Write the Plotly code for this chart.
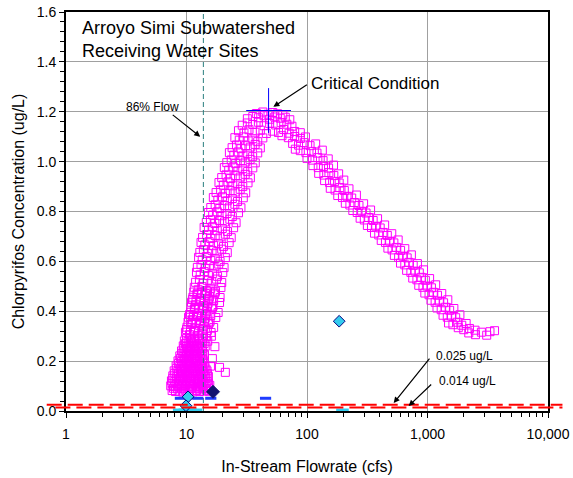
import numpy as np
import plotly.graph_objects as go

# ---------------- data ----------------
# Model output: concentration (ug/L) vs in-stream flow (cfs)
blob_x = [7.6, 8.1, 8.7, 9.3, 9.9, 10.6, 11.3, 12.1, 12.9, 13.8, 14.7, 15.4,
          7.8, 8.4, 9.0, 9.6, 10.3, 11.0, 11.8, 12.6, 13.5, 14.4, 15.3,
          7.4, 7.9, 8.5, 9.1, 9.8, 10.5, 11.2, 12.0, 12.8, 13.7, 14.6, 15.6,
          7.6, 8.2, 8.8, 9.4, 10.1, 10.8, 11.6, 12.4, 13.3, 14.2, 15.2,
          7.5, 8.0, 8.6, 9.2, 9.9, 10.6, 11.4, 12.2, 13.0, 13.9, 14.9,
          7.7, 8.3, 8.9, 9.6, 10.3, 11.0, 11.8, 12.6, 13.5, 14.5,
          7.7, 8.3, 8.9, 9.5, 10.2, 10.9, 11.7, 12.5, 13.4, 14.3, 15.2,
          8.0, 8.6, 9.2, 9.9, 10.6, 11.4, 12.2, 13.1, 14.0, 14.9,
          7.9, 8.5, 9.1, 9.8, 10.5, 11.2, 12.0, 12.9, 13.8, 14.8,
          8.3, 8.9, 9.6, 10.3, 11.0, 11.8, 12.7, 13.6, 14.5,
          8.2, 8.8, 9.4, 10.1, 10.8, 11.6, 12.4, 13.3, 14.2,
          8.6, 9.2, 9.9, 10.6, 11.4, 12.2, 13.1, 14.0,
          8.5, 9.1, 9.7, 10.4, 11.1, 11.9, 12.8, 13.7,
          8.9, 9.6, 10.3, 11.0, 11.8, 12.7, 13.6,
          8.8, 9.4, 10.0, 10.7, 11.5, 12.3, 13.2, 14.1,
          9.2, 9.9, 10.6, 11.4, 12.2, 13.1, 14.0,
          9.1, 9.7, 10.4, 11.1, 11.9, 12.7, 13.6,
          9.5, 10.2, 10.9, 11.7, 12.6, 13.5,
          9.4, 10.0, 10.7, 11.5, 12.3, 13.2, 14.3,
          9.8, 10.5, 11.3, 12.1, 13.0, 14.0,
          9.6, 10.3, 11.0, 11.8, 12.7, 13.6, 15.0,
          10.0, 10.8, 11.6, 12.5, 13.4, 14.5,
          15.8, 18.8, 21.0, 16.4, 17.2, 16.1]
blob_y = [0.082, 0.078, 0.080, 0.076, 0.081, 0.079, 0.077, 0.082, 0.078, 0.080, 0.083, 0.079,
          0.091, 0.089, 0.092, 0.088, 0.090, 0.091, 0.089, 0.092, 0.088, 0.090, 0.091,
          0.101, 0.098, 0.103, 0.099, 0.102, 0.097, 0.100, 0.104, 0.098, 0.101, 0.099, 0.103,
          0.111, 0.109, 0.112, 0.108, 0.110, 0.111, 0.109, 0.112, 0.108, 0.110, 0.111,
          0.121, 0.118, 0.123, 0.119, 0.122, 0.117, 0.120, 0.124, 0.118, 0.121, 0.119,
          0.131, 0.129, 0.132, 0.128, 0.130, 0.131, 0.129, 0.132, 0.128, 0.130,
          0.141, 0.138, 0.143, 0.139, 0.142, 0.137, 0.140, 0.144, 0.138, 0.141, 0.139,
          0.151, 0.149, 0.152, 0.148, 0.150, 0.151, 0.149, 0.152, 0.148, 0.150,
          0.161, 0.158, 0.163, 0.159, 0.162, 0.157, 0.160, 0.164, 0.158, 0.161,
          0.171, 0.169, 0.172, 0.168, 0.170, 0.171, 0.169, 0.172, 0.168,
          0.181, 0.178, 0.183, 0.179, 0.182, 0.177, 0.180, 0.184, 0.178,
          0.191, 0.189, 0.192, 0.188, 0.190, 0.191, 0.189, 0.192,
          0.201, 0.198, 0.203, 0.199, 0.202, 0.197, 0.200, 0.204,
          0.211, 0.209, 0.212, 0.208, 0.210, 0.211, 0.209,
          0.221, 0.218, 0.223, 0.219, 0.222, 0.217, 0.220, 0.224,
          0.231, 0.229, 0.232, 0.228, 0.230, 0.231, 0.229,
          0.241, 0.238, 0.243, 0.239, 0.242, 0.237, 0.240,
          0.251, 0.249, 0.252, 0.248, 0.250, 0.251,
          0.261, 0.258, 0.263, 0.259, 0.262, 0.257, 0.260,
          0.271, 0.269, 0.272, 0.268, 0.270, 0.271,
          0.281, 0.278, 0.283, 0.279, 0.282, 0.277, 0.280,
          0.291, 0.289, 0.292, 0.288, 0.290, 0.291,
          0.180, 0.175, 0.155, 0.210, 0.258, 0.300]

rise_x = [9.8, 10.6, 11.5, 12.4, 13.5, 14.7, 16.0,
          10.0, 10.8, 11.7, 12.6, 13.7, 14.9,
          10.1, 10.9, 11.8, 12.8, 13.9, 15.2, 16.8,
          10.3, 11.1, 12.0, 13.0, 14.1, 15.4,
          10.4, 11.2, 12.1, 13.1, 14.3, 15.7, 17.5,
          10.6, 11.4, 12.3, 13.3, 14.5, 15.9,
          10.8, 11.6, 12.5, 13.5, 14.7, 16.2, 18.3,
          10.9, 11.7, 12.6, 13.7, 14.9, 16.4,
          11.0, 11.9, 12.8, 13.9, 15.1, 16.6, 18.8,
          11.2, 12.0, 13.0, 14.0, 15.3, 16.8,
          11.3, 12.2, 13.1, 14.2, 15.5, 17.0, 19.0,
          11.5, 12.3, 13.3, 14.4, 15.7, 17.2,
          11.6, 12.5, 13.4, 14.6, 15.9, 17.4, 19.3,
          11.9, 12.8, 13.7, 14.9, 16.2, 17.7, 19.6,
          12.1, 13.0, 14.0, 15.2, 16.5, 18.1, 20.0,
          12.3, 13.2, 14.3, 15.5, 16.9, 18.5, 20.5,
          12.6, 13.5, 14.6, 15.9, 17.3, 19.0, 21.0,
          12.9, 13.8, 15.0, 16.3, 17.8, 19.6, 21.8,
          13.2, 14.2, 15.4, 16.8, 18.4, 20.3, 22.6,
          13.6, 14.7, 15.9, 17.3, 19.0, 21.0, 23.5,
          14.0, 15.2, 16.5, 18.0, 19.8, 21.9, 24.6,
          14.6, 15.8, 17.2, 18.8, 20.7, 22.9, 25.8,
          15.2, 16.5, 18.0, 19.7, 21.7, 24.0, 27.0,
          15.9, 17.3, 18.9, 20.7, 22.8, 25.2, 28.3,
          16.7, 18.2, 19.9, 21.8, 24.0, 26.5, 29.6,
          17.6, 19.2, 21.0, 23.0, 25.3, 27.9, 31.0,
          18.6, 20.2, 22.1, 24.2, 26.6, 29.3, 32.4,
          19.6, 21.3, 23.2, 25.4, 27.9, 30.7, 33.9,
          20.6, 22.4, 24.4, 26.7, 29.3, 32.2, 35.5,
          21.6, 23.5, 25.6, 28.0, 30.7, 33.7, 37.2,
          22.7, 24.7, 26.9, 29.4, 32.2, 35.4, 39.0,
          23.9, 26.0, 28.3, 30.9, 33.8, 37.1, 41.0,
          25.2, 27.4, 29.8, 32.5, 35.5, 39.0, 43.0]
rise_y = [0.316, 0.306, 0.319, 0.303, 0.312, 0.300, 0.315,
          0.327, 0.322, 0.325, 0.321, 0.328, 0.323,
          0.336, 0.347, 0.332, 0.344, 0.338, 0.349, 0.335,
          0.357, 0.352, 0.355, 0.351, 0.358, 0.353,
          0.376, 0.366, 0.379, 0.363, 0.372, 0.360, 0.375,
          0.387, 0.382, 0.385, 0.381, 0.388, 0.383,
          0.396, 0.407, 0.392, 0.404, 0.398, 0.409, 0.395,
          0.417, 0.412, 0.415, 0.411, 0.418, 0.413,
          0.436, 0.426, 0.439, 0.423, 0.432, 0.420, 0.435,
          0.447, 0.442, 0.445, 0.441, 0.448, 0.443,
          0.456, 0.467, 0.452, 0.464, 0.458, 0.469, 0.455,
          0.477, 0.472, 0.475, 0.471, 0.478, 0.473,
          0.496, 0.486, 0.499, 0.483, 0.492, 0.480, 0.495,
          0.516, 0.527, 0.512, 0.524, 0.518, 0.529, 0.515,
          0.556, 0.546, 0.559, 0.543, 0.552, 0.540, 0.555,
          0.576, 0.587, 0.572, 0.584, 0.578, 0.589, 0.575,
          0.616, 0.606, 0.619, 0.603, 0.612, 0.600, 0.615,
          0.636, 0.647, 0.632, 0.644, 0.638, 0.649, 0.635,
          0.676, 0.666, 0.679, 0.663, 0.672, 0.660, 0.675,
          0.696, 0.707, 0.692, 0.704, 0.698, 0.709, 0.695,
          0.736, 0.726, 0.739, 0.723, 0.732, 0.720, 0.735,
          0.756, 0.767, 0.752, 0.764, 0.758, 0.769, 0.755,
          0.796, 0.786, 0.799, 0.783, 0.792, 0.780, 0.795,
          0.816, 0.827, 0.812, 0.824, 0.818, 0.829, 0.815,
          0.856, 0.846, 0.859, 0.843, 0.852, 0.840, 0.855,
          0.876, 0.887, 0.872, 0.884, 0.878, 0.889, 0.875,
          0.916, 0.906, 0.919, 0.903, 0.912, 0.900, 0.915,
          0.936, 0.947, 0.932, 0.944, 0.938, 0.949, 0.935,
          0.976, 0.966, 0.979, 0.963, 0.972, 0.960, 0.975,
          0.996, 1.007, 0.992, 1.004, 0.998, 1.009, 0.995,
          1.036, 1.026, 1.039, 1.023, 1.032, 1.020, 1.035,
          1.056, 1.067, 1.052, 1.064, 1.058, 1.069, 1.055,
          1.096, 1.086, 1.099, 1.083, 1.092, 1.080, 1.095]

peak_x = [27, 30, 33, 37, 41, 46, 52, 58, 64, 71, 79, 88,
          29, 32, 35.5, 39.5, 44, 49, 55, 61, 68, 75,
          32, 35.5, 39.5, 44, 49, 54, 60, 66, 72,
          38, 43, 47.5, 52, 57, 63, 80]
peak_y = [1.124, 1.115, 1.128, 1.118, 1.126, 1.113, 1.122, 1.117, 1.129, 1.114, 1.121, 1.116,
          1.146, 1.155, 1.149, 1.158, 1.144, 1.153, 1.147, 1.156, 1.150, 1.142,
          1.172, 1.181, 1.176, 1.184, 1.170, 1.179, 1.174, 1.178, 1.168,
          1.193, 1.199, 1.190, 1.197, 1.192, 1.188, 1.050]

fall_x = [62, 70, 79, 88, 97,
          76, 85, 95, 106, 118,
          88, 98, 109, 121, 134,
          100, 111, 123, 136, 150,
          112, 124, 137, 151, 166,
          125, 138, 152, 167, 183,
          140, 154, 169, 185, 202,
          156, 171, 187, 204, 223,
          180, 197, 215, 235, 257,
          208, 227, 247, 270, 295,
          240, 261, 284, 309, 337,
          276, 299, 325, 354, 385,
          317, 343, 372, 405, 441,
          363, 394, 427, 464, 505,
          413, 448, 485, 526, 571,
          469, 508, 551, 598, 648,
          531, 576, 625, 678, 735,
          597, 648, 702, 761, 825,
          671, 728, 789, 855, 927,
          754, 817, 886, 960, 1041,
          846, 917, 995, 1078, 1169,
          950, 1030, 1117, 1210, 1313,
          1068, 1157, 1254, 1360, 1474,
          1199, 1299, 1408, 1527, 1655,
          1346, 1459, 1581, 1714, 1858,
          1495, 1625, 1768, 1924, 2093,
          1800, 2000, 2230, 2480,
          2200, 2500, 2800, 3100,
          3300, 3600]
fall_y = [1.104, 1.096, 1.101, 1.093, 1.099,
          1.073, 1.066, 1.076, 1.064, 1.071,
          1.044, 1.036, 1.041, 1.034, 1.046,
          1.013, 1.006, 1.016, 1.004, 1.011,
          0.984, 0.976, 0.981, 0.974, 0.986,
          0.953, 0.946, 0.956, 0.944, 0.951,
          0.924, 0.916, 0.921, 0.914, 0.926,
          0.893, 0.886, 0.896, 0.884, 0.891,
          0.864, 0.856, 0.861, 0.854, 0.866,
          0.833, 0.826, 0.836, 0.824, 0.831,
          0.804, 0.796, 0.801, 0.794, 0.806,
          0.773, 0.766, 0.776, 0.764, 0.771,
          0.744, 0.736, 0.741, 0.734, 0.746,
          0.713, 0.706, 0.716, 0.704, 0.711,
          0.684, 0.676, 0.681, 0.674, 0.686,
          0.653, 0.646, 0.656, 0.644, 0.651,
          0.624, 0.616, 0.621, 0.614, 0.626,
          0.593, 0.586, 0.596, 0.584, 0.591,
          0.564, 0.556, 0.561, 0.554, 0.566,
          0.533, 0.526, 0.536, 0.524, 0.531,
          0.504, 0.496, 0.501, 0.494, 0.506,
          0.473, 0.466, 0.476, 0.464, 0.471,
          0.444, 0.436, 0.441, 0.434, 0.446,
          0.413, 0.406, 0.416, 0.404, 0.411,
          0.384, 0.376, 0.381, 0.374, 0.386,
          0.353, 0.346, 0.356, 0.344, 0.351,
          0.334, 0.326, 0.331, 0.324,
          0.313, 0.306, 0.316, 0.304,
          0.318, 0.322]

# Observed receiving water samples
obs_cyan_x = [185, 10.3, 9.9]
obs_cyan_y = [0.36, 0.057, 0.021]
obs_navy_x = [16.6]
obs_navy_y = [0.077]
nd_blue_x = [8.9, 12.4, 15.9, 45.3]
nd_blue_y = [0.051, 0.051, 0.051, 0.051]
nd_cyan_x = [8.7, 9.7, 10.8, 12.0, 197]
nd_cyan_y = [0.004, 0.004, 0.004, 0.004, 0.004]

critical_x = [48]
critical_y = [1.205]
flow_86 = 13.8
targets = [0.025, 0.014]

x_tickvals = [1, 10, 100, 1000, 10000]
x_ticktext = ["1", "10", "100", "1,000", "10,000"]

# ---------------- figure ----------------
FONT = "Liberation Sans, Arial, Helvetica, sans-serif"
magenta = "#ff00ff"

fig = go.Figure()

fig.add_trace(go.Scatter(
    x=blob_x + rise_x + peak_x + fall_x,
    y=blob_y + rise_y + peak_y + fall_y,
    mode="markers",
    marker=dict(symbol="square-open", size=8, color=magenta,
                line=dict(width=1, color=magenta)),
    hoverinfo="skip", showlegend=False))

fig.add_trace(go.Scatter(
    x=[flow_86, flow_86], y=[0, 1.6], mode="lines",
    line=dict(color="#2a7f7f", width=1, dash="5px,3px"),
    hoverinfo="skip", showlegend=False))

fig.add_trace(go.Scatter(
    x=nd_cyan_x, y=nd_cyan_y, mode="markers", cliponaxis=False,
    marker=dict(symbol="line-ew", size=9, color="#33ccee",
                line=dict(width=3, color="#33ccee")),
    hoverinfo="skip", showlegend=False))

fig.add_trace(go.Scatter(
    x=nd_blue_x, y=nd_blue_y, mode="markers",
    marker=dict(symbol="line-ew", size=8, color="#1f3cff",
                line=dict(width=3, color="#1f3cff")),
    hoverinfo="skip", showlegend=False))

fig.add_trace(go.Scatter(
    x=obs_cyan_x, y=obs_cyan_y, mode="markers",
    marker=dict(symbol="diamond", size=9, color="#33ccee",
                line=dict(width=1, color="#000080")),
    hoverinfo="skip", showlegend=False))

fig.add_trace(go.Scatter(
    x=obs_navy_x, y=obs_navy_y, mode="markers",
    marker=dict(symbol="diamond", size=10, color="#141470",
                line=dict(width=1, color="#141470")),
    hoverinfo="skip", showlegend=False))

fig.add_trace(go.Scatter(
    x=critical_x, y=critical_y, mode="markers",
    marker=dict(symbol="cross-thin", size=32, color="#0000ff",
                line=dict(width=1, color="#0000ff")),
    hoverinfo="skip", showlegend=False))

# target concentration lines (extend slightly beyond the plot frame)
for i, t in enumerate(targets):
    fig.add_shape(type="line", xref="paper", yref="y",
                  x0=-0.04 + 0.018 * i, x1=1.03, y0=t, y1=t,
                  line=dict(color="#ff0000", width=2.0, dash="15px,6px"),
                  layer="above")

lx = np.log10
ann = []
def arrow(xv, yv, ax, ay):
    ann.append(dict(x=lx(xv), y=yv, xref="x", yref="y", text="", showarrow=True,
                    ax=ax, ay=ay, arrowhead=2, arrowsize=1, arrowwidth=1.2,
                    arrowcolor="black", standoff=0, startstandoff=0))
def label(xv, yv, txt, size, xanchor="left"):
    ann.append(dict(x=lx(xv), y=yv, xref="x", yref="y", text=txt, showarrow=False,
                    xanchor=xanchor, yanchor="middle",
                    font=dict(family=FONT, size=size, color="black")))

arrow(52.6, 1.22, 35, -23)
label(104, 1.312, "Critical Condition", 17)
arrow(13.0, 1.10, -29, -23)
label(5.19, 1.22, "86% Flow", 12, xanchor="center")
arrow(524, 0.032, 37, -46)
label(1127, 0.22, "0.025 ug/L", 12)
arrow(698, 0.020, 24, -23)
label(1194, 0.12, "0.014 ug/L", 12)

ann.append(dict(x=0.029, y=0.93, xref="paper", yref="paper",
                text="Arroyo Simi Subwatershed<br>Receiving Water Sites",
                showarrow=False, xanchor="left", yanchor="middle", align="left",
                font=dict(family=FONT, size=18, color="black")))

fig.update_layout(
    width=573, height=478,
    margin=dict(l=66, r=25, t=12, b=67, autoexpand=False),
    paper_bgcolor="white", plot_bgcolor="white",
    font=dict(family=FONT, color="black"),
    annotations=ann,
    showlegend=False,
)

fig.update_xaxes(
    type="log", range=[0, 4], automargin=False,
    tickvals=x_tickvals, ticktext=x_ticktext,
    tickfont=dict(size=14, family=FONT, color="black"),
    ticks="outside", ticklen=5, tickcolor="black", tickwidth=1,
    ticklabelstandoff=4,
    showline=True, linecolor="black", linewidth=2, mirror=True,
    showgrid=True, gridcolor="#a0a0a0", gridwidth=1, zeroline=False,
    minor=dict(ticks="outside", ticklen=4, tickcolor="black", dtick="D1", showgrid=False),
    title=dict(text="In-Stream Flowrate (cfs)", font=dict(size=16, family=FONT, color="black"),
               standoff=20),
)
fig.update_yaxes(
    range=[0, 1.6], dtick=0.2, tickformat=".1f", automargin=False,
    tickfont=dict(size=14, family=FONT, color="black"),
    ticks="outside", ticklen=5, tickcolor="black", tickwidth=1,
    showline=True, linecolor="black", linewidth=2, mirror=True,
    showgrid=True, gridcolor="#a0a0a0", gridwidth=1, zeroline=False,
    minor=dict(ticks="outside", ticklen=4, tickcolor="black", dtick=0.04, showgrid=False),
    title=dict(text="Chlorpyrifos Concentration (ug/L)",
               font=dict(size=16, family=FONT, color="black"), standoff=8),
)

fig.write_html("out.html", config={"displayModeBar": False},
               post_script="document.body.style.margin='0px';")
